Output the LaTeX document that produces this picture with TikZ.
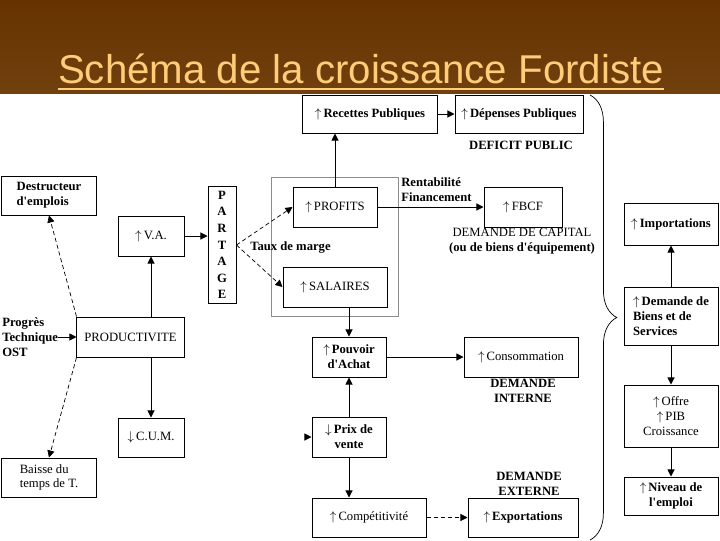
\documentclass[tikz,border=0pt]{standalone}
\usepackage{fontspec}
\setmainfont{Liberation Serif}
\newfontfamily\titlefont{Liberation Sans}
\definecolor{fbrown}{RGB}{102,51,0}
\definecolor{fbrownlow}{RGB}{112,64,14}
\definecolor{ftitle}{RGB}{255,204,122}
\definecolor{fgray}{RGB}{140,140,140}
\usetikzlibrary{arrows.meta,positioning,calc,fit,decorations.pathreplacing}
\newcommand{\hausse}{$\uparrow$\,}
\newcommand{\baisse}{$\downarrow$\,}
\newcommand{\apos}{\textquotesingle}

\begin{document}
\begin{tikzpicture}[x=0.025cm, y=-0.025cm,
  box/.style={draw, line width=0.7pt, align=center, inner sep=2pt, font=\fontsize{9}{10.5}\selectfont},
  boxb/.style={box, font=\fontsize{9}{10.5}\selectfont\bfseries},
  lbl/.style={inner sep=0pt, align=center, font=\fontsize{9}{10.5}\selectfont\bfseries},
  arr/.style={-{Triangle[length=5pt,width=5pt]}, line width=0.7pt},
  darr/.style={arr, dashed, dash pattern=on 3pt off 2pt, line width=0.5pt}
]
  \useasboundingbox (0,0) rectangle (720,540);

  %% Bandeau du titre
  \shade[top color=fbrown, bottom color=fbrownlow] (0,0) rectangle (720,93);
  \node[font=\titlefont\fontsize{28.6}{30}\selectfont, text=ftitle, anchor=base, inner sep=0pt] (titre) at (361,83) {Schéma de la croissance Fordiste};
  \draw[ftitle, line width=1.5pt] ([yshift=-4pt]titre.base west) -- ([yshift=-4pt]titre.base east);

  %% Etat
  \node[boxb, minimum width=3.35cm, minimum height=0.95cm] (recettes) at (370,114) {\hausse Recettes Publiques};
  \node[boxb, minimum width=3.2cm, minimum height=0.95cm]  (depenses) at (519,114) {\hausse Dépenses Publiques};
  \node[lbl] (deficit) at (521,145) {DEFICIT PUBLIC};

  %% Partage de la valeur ajoutee
  \node[box, minimum width=1.65cm, minimum height=1.0cm] (va) at (151,236) {\hausse V.A.};
  \node[draw, line width=0.7pt, minimum width=0.7cm, minimum height=2.9cm, align=center, inner sep=0pt,
        font=\fontsize{9}{11.8}\selectfont\bfseries] (partage) at (222,245) {P\\A\\R\\T\\A\\G\\E};
  \node[box, minimum width=2.1cm, minimum height=1.0cm] (profits)  at (335,207) {\hausse PROFITS};
  \node[box, minimum width=2.6cm, minimum height=1.0cm] (salaires) at (335,287) {\hausse SALAIRES};
  \node[draw=fgray, line width=0.7pt, fit=(profits)(salaires), inner xsep=0.27cm, inner ysep=0.22cm] (cadre) {};
  \node[lbl, anchor=west] (taux) at (250,247) {Taux de marge};

  \node[box, minimum width=1.95cm, minimum height=1.0cm] (fbcf) at (523,207) {\hausse FBCF};
  \node[lbl, anchor=west, align=left] (rentab) at (401,190) {Rentabilité\\Financement};
  \node[lbl, font=\fontsize{9}{10.5}\selectfont] (demcap) at (522,241) {DEMANDE DE CAPITAL\\\textbf{(ou de biens d\apos équipement)}};

  %% Productivite
  \node[box, minimum width=2.675cm, minimum height=1.0cm] (prod) at (130.5,337) {PRODUCTIVITE};
  \node[lbl, anchor=west, align=left] (progres) at (2,337) {Progrès\\Technique\\OST};
  \node[boxb, minimum width=2.35cm, minimum height=0.975cm, align=left] (destr) at (49,195.5) {Destructeur\\d\apos emplois};
  \node[box, minimum width=2.35cm, minimum height=0.975cm, align=left] (baisse) at (49,477.5) {Baisse du\\temps de T.};
  \node[box, minimum width=1.65cm, minimum height=0.975cm] (cum) at (151,437.5) {\baisse C.U.M.};

  %% Demande interne et externe
  \node[boxb, minimum width=1.85cm, minimum height=1.0cm] (pouvoir) at (349,357) {\hausse Pouvoir\\d\apos Achat};
  \node[box, minimum width=2.85cm, minimum height=1.0cm] (conso) at (521,357) {\hausse Consommation};
  \node[lbl] (demint) at (523,391) {DEMANDE\\INTERNE};
  \node[boxb, minimum width=1.85cm, minimum height=1.0cm] (prix) at (349,437) {\baisse Prix de\\vente};
  \coordinate (cumtip) at (305,437);
  \node[box, minimum width=2.85cm, minimum height=0.975cm] (compet) at (369,517.5) {\hausse Compétitivité};
  \node[boxb, minimum width=2.75cm, minimum height=0.975cm] (export) at (523,517.5) {\hausse Exportations};
  \node[lbl] (demext) at (529,484) {DEMANDE\\EXTERNE};

  %% Colonne de droite
  \node[boxb, minimum width=2.35cm, minimum height=1.05cm] (import) at (671,224) {\hausse Importations};
  \node[boxb, minimum width=2.35cm, minimum height=1.45cm, align=left] (demande) at (671,316) {\hausse Demande de\\Biens et de\\Services};
  \node[box, minimum width=2.35cm, minimum height=1.55cm] (offre) at (671,416) {\hausse Offre\\\hausse PIB\\Croissance};
  \node[boxb, minimum width=2.35cm, minimum height=0.95cm] (niveau) at (671,496) {\hausse Niveau de\\l\apos emploi};
  \draw[decorate, decoration={brace, amplitude=0.67cm}, line width=0.5pt] (590,95) -- (590,540);

  %% Fleches
  \draw[arr] (recettes) -- (depenses);
  \draw[arr] (profits.north) -- (profits.north |- recettes.south);
  \draw[arr] (profits) -- (fbcf);
  \draw[arr] (va.east) -- (va.east -| partage.west);
  \draw[darr] (partage.east) -- (profits.west);
  \draw[darr] (partage.east) -- (salaires.west);
  \draw[arr] (prod.north -| va) -- (va.south);
  \draw[arr] (prod.south -| cum) -- (cum.north);
  \draw[arr] (progres.east) -- (prod.west);
  \draw[darr] (prod.north west) -- (destr.south);
  \draw[darr] (prod.south west) -- (baisse.north);
  \draw[arr] (salaires.south -| pouvoir) -- (pouvoir.north);
  \draw[arr] (pouvoir) -- (conso);
  \draw[arr] (prix) -- (pouvoir);
  \draw[arr] (cumtip) -- (prix.west);
  \draw[arr] (prix.south) -- (prix.south |- compet.north);
  \draw[darr] (compet) -- (export);
  \draw[arr] (demande) -- (import);
  \draw[arr] (demande) -- (offre);
  \draw[arr] (offre) -- (niveau);
\end{tikzpicture}
\end{document}
